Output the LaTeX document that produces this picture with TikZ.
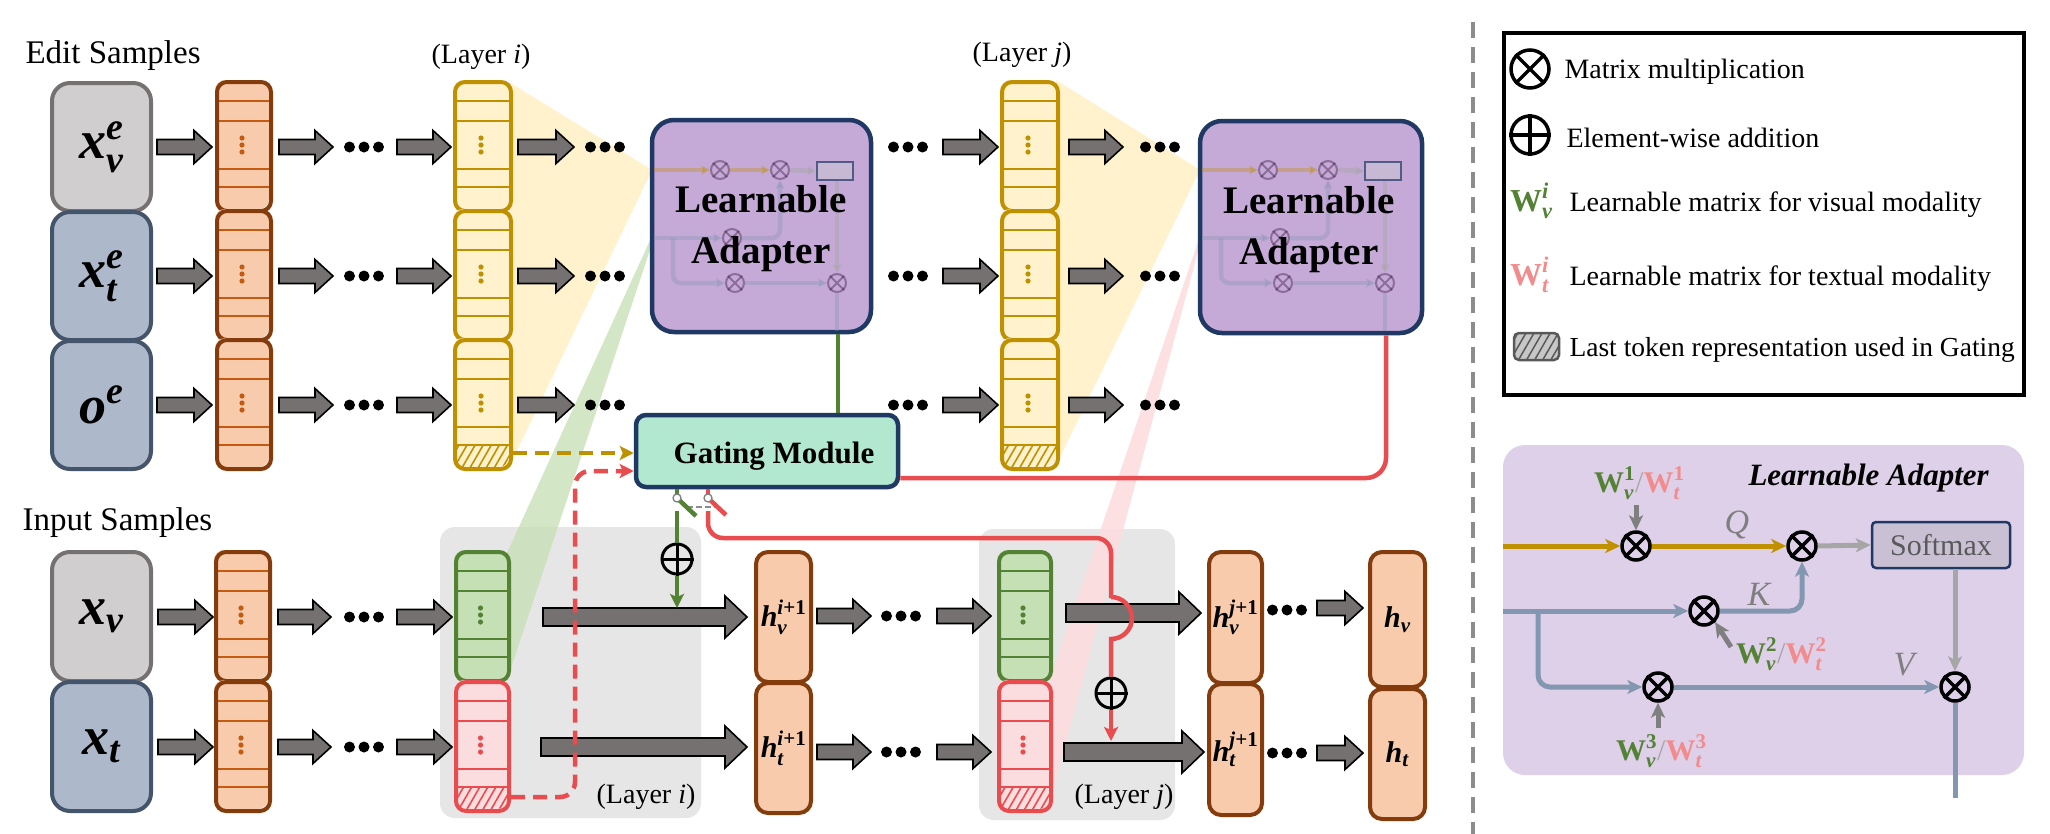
\documentclass[tikz,border=0pt]{standalone}
\usepackage{fix-cm}
\usepackage{amsmath}
\usepackage{fontspec}
\setmainfont{Liberation Serif}
\usetikzlibrary{arrows.meta,patterns.meta,calc}

\definecolor{agray}{HTML}{767171}
\definecolor{orfill}{HTML}{F8CBAD}
\definecolor{ordraw}{HTML}{843C0C}
\definecolor{orline}{HTML}{C55A11}
\definecolor{yefill}{HTML}{FFF2CC}
\definecolor{yedraw}{HTML}{BF9000}
\definecolor{grfill}{HTML}{C5E0B4}
\definecolor{grdraw}{HTML}{548235}
\definecolor{rdfill}{HTML}{FCDDDF}
\definecolor{rddraw}{HTML}{E84C4F}
\definecolor{ingray}{HTML}{D0CECE}
\definecolor{ingrayd}{HTML}{767171}
\definecolor{inblue}{HTML}{ADB9CA}
\definecolor{inblued}{HTML}{44546A}
\definecolor{adfill}{HTML}{C5A9D7}
\definecolor{navy}{HTML}{1F3864}
\definecolor{gatefill}{HTML}{B2E8CF}
\definecolor{laybg}{HTML}{E7E6E6}
\definecolor{panelfill}{HTML}{DFD0EA}
\definecolor{porange}{HTML}{BF9000}
\definecolor{pblue}{HTML}{8497B0}
\definecolor{pgray}{HTML}{A6A6A6}
\definecolor{smfill}{HTML}{C9C1D3}
\definecolor{wpink}{HTML}{F28B8B}
\definecolor{qgray}{HTML}{7F7F7F}
\definecolor{sepgray}{HTML}{8C8C8C}

\newcommand\bi[1]{\textbf{\textit{#1}}}
\newcommand\fs[1]{\fontsize{#1bp}{#1bp}\selectfont}

\tikzset{
  arrowblk/.style={fill=agray, draw=black, line width=1.6bp, line join=miter},
  segbox/.style={rectangle, rounded corners=10bp, line width=4bp, inner sep=0pt},
  inbox/.style={rectangle, rounded corners=18bp, line width=4bp, inner sep=0pt,
     minimum width=99bp, minimum height=128bp, anchor=north west},
  hbox/.style={rectangle, rounded corners=12bp, line width=4bp, fill=orfill,
     draw=ordraw, inner sep=0pt, anchor=north west},
  bigbox/.style={rectangle, rounded corners=22bp, line width=4.5bp, draw=navy, inner sep=0pt},
  greenl/.style={draw=grdraw, line width=4.5bp},
  redl/.style={draw=rddraw, line width=4.5bp},
  tipc/.style={-{Stealth[length=14bp,width=14bp,inset=3bp]}},
  ptip/.style={-{Stealth[length=15bp,width=14bp,inset=4bp]}},
  mtip/.style={-{Stealth[length=9bp,width=9bp,inset=2bp]}},
  otimes/.style={circle, draw=black, line width=3.5bp, inner sep=0pt, minimum size=28bp},
  mot/.style={circle, draw=black!70!violet, line width=2bp, inner sep=0pt, minimum size=18bp, opacity=0.35},
}

\newcommand\barr[6]{\filldraw[arrowblk] (#1,#3-#4) -- (#2-#6,#3-#4) -- (#2-#6,#3-#5) -- (#2,#3) -- (#2-#6,#3+#5) -- (#2-#6,#3+#4) -- (#1,#3+#4) -- cycle;}
\newcommand\sarr[3]{\barr{#1}{#2}{#3}{7.5}{16.5}{18}}
\newcommand\larr[3]{\barr{#1}{#2}{#3}{9}{21}{22}}
\newcommand\tdots[2]{\fill (#1+5.5,#2) circle[radius=5.5bp] (#1+20,#2) circle[radius=5.5bp] (#1+34.5,#2) circle[radius=5.5bp];}

% #1 name #2 x #3 ytop #4 w #5 fill #6 border #7 line color #8 dot color #9 hatch
\newcommand\cseg[9]{%
  \fill[#5, rounded corners=10bp] (#2,#3) rectangle (#2+#4,#3+129);
  \ifnum#9=1
    \begin{scope}
      \clip[rounded corners=10bp] (#2,#3) rectangle (#2+#4,#3+129);
      \fill[pattern={Lines[angle=60,distance=7bp,line width=1.6bp]}, pattern color=#6] (#2,#3+107) rectangle (#2+#4,#3+129);
    \end{scope}
  \fi
  \foreach \yy in {21,41,89,107} \draw[#7, line width=2.6bp] (#2,#3+\yy) -- (#2+#4,#3+\yy);
  \foreach \yy in {58,65,72} \fill[#8] (#2+#4/2,#3+\yy) circle[radius=2.6bp];
  \node[segbox, draw=#6, minimum width=#4bp, minimum height=129bp, anchor=north west] (#1) at (#2,#3) {};
}

\newcommand\otn[3]{% name, x, y  (matrix mult, panel)
  \node[otimes] (#1) at (#2,#3) {};
  \draw[line width=3.5bp] (#1.north east) -- (#1.south west) (#1.north west) -- (#1.south east);
}
\newcommand\mot[3]{% mini otimes
  \node[mot] (#1) at (#2,#3) {};
  \draw[black!70!violet, line width=2bp, opacity=0.35] (#1.north east) -- (#1.south west) (#1.north west) -- (#1.south east);
}
\newcommand\mini[2]{% L, prefix
  \begin{scope}[line width=4.5bp]
    \mot{#2a}{#1+68}{170}
    \mot{#2b}{#1+128}{170}
    \mot{#2d}{#1+80}{238}
    \mot{#2e}{#1+83}{283}
    \mot{#2c}{#1+185}{283}
    \node[rectangle, fill=smfill, draw=navy, line width=1.5bp, minimum width=36bp, minimum height=18bp, inner sep=0pt, opacity=0.7] (#2s) at (#1+183,171) {};
    \draw[porange, opacity=0.35, mtip] (#1+2,170) -- (#2a.west);
    \draw[porange, opacity=0.35, mtip] (#2a.east) -- (#2b.west);
    \draw[pgray, opacity=0.45, mtip] (#2b.east) -- (#2s.west);
    \draw[pgray, opacity=0.45, mtip] (#2c |- #2s.south) -- (#2c.north);
    \draw[pblue, opacity=0.35, mtip] (#1+2,238) -- (#2d.west);
    \draw[pblue, opacity=0.35, mtip, rounded corners=8bp] (#2d.east) -| (#2b.south);
    \draw[pblue, opacity=0.35, mtip, rounded corners=8bp] (#1+21,238) |- (#2e.west);
    \draw[pblue, opacity=0.35, mtip] (#2e.east) -- (#2c.west);
    \draw[pblue, opacity=0.35] (#2c.south) -- (#1+185,331);
  \end{scope}
}

\begin{document}
\begin{tikzpicture}[x=1bp,y=-1bp]
\useasboundingbox (0,0) rectangle (2050,834);
\fill[white] (0,0) rectangle (2050,834);

% ---------- layer backgrounds ----------
\fill[laybg, rounded corners=15bp] (440,527) rectangle (701,818);
\fill[laybg, rounded corners=15bp] (979,529) rectangle (1175,820);

% ---------- wedges ----------
\fill[yefill] (509,82) -- (652,170) -- (509,467) -- cycle;
\fill[yefill] (1056,80) -- (1200,170) -- (1056,465) -- cycle;
\fill[grfill, opacity=0.75] (507,553) -- (652,236) -- (652,244) -- (507,680) -- cycle;
\fill[rdfill, opacity=0.9] (1049,682) -- (1200,236) -- (1200,244) -- (1049,805) -- cycle;

% ---------- titles ----------
\node[anchor=base west, font={\fs{33}}] (edit) at (22,63) {Edit Samples};
\node[anchor=base west, font={\fs{33}}] (inp) at (19,530) {Input Samples};
\node[font={\fs{28}}] (li1) at (481,57) {(Layer \textit{i})};
\node[font={\fs{28}}] (lj1) at (1022,55) {(Layer \textit{j})};
\node[font={\fs{28}}] (li2) at (646,797) {(Layer \textit{i})};
\node[font={\fs{28}}] (lj2) at (1124,797) {(Layer \textit{j})};

% ---------- edit sample inputs ----------
\node[inbox, fill=ingray, draw=ingrayd] (xve) at (50,81) {\fs{54}$\bi{x}^{\bi{e}}_{\bi{v}}$};
\node[inbox, fill=inblue, draw=inblued] (xte) at (50,210) {\fs{54}$\bi{x}^{\bi{e}}_{\bi{t}}$};
\node[inbox, fill=inblue, draw=inblued] (oe) at (50,339) {\fs{54}$\bi{o}^{\bi{e}}$};

% ---------- top columns ----------
\cseg{oc1}{215}{80}{54}{orfill}{ordraw}{orline}{orline}{0}
\cseg{oc2}{215}{209}{54}{orfill}{ordraw}{orline}{orline}{0}
\cseg{oc3}{215}{338}{54}{orfill}{ordraw}{orline}{orline}{0}
\cseg{yi1}{453}{80}{56}{yefill}{yedraw}{yedraw}{yedraw}{0}
\cseg{yi2}{453}{209}{56}{yefill}{yedraw}{yedraw}{yedraw}{0}
\cseg{yi3}{453}{338}{56}{yefill}{yedraw}{yedraw}{yedraw}{1}
\cseg{yj1}{1000}{80}{56}{yefill}{yedraw}{yedraw}{yedraw}{0}
\cseg{yj2}{1000}{209}{56}{yefill}{yedraw}{yedraw}{yedraw}{0}
\cseg{yj3}{1000}{338}{56}{yefill}{yedraw}{yedraw}{yedraw}{1}

\foreach \r in {147,276,405}{
  \sarr{157}{212}{\r}
  \sarr{279}{333}{\r}
  \tdots{344}{\r}
  \sarr{397}{451}{\r}
  \sarr{518}{574}{\r}
  \tdots{585}{\r}
  \tdots{888}{\r}
  \sarr{943}{998}{\r}
  \sarr{1069}{1123}{\r}
  \tdots{1140}{\r}
}

% ---------- input samples ----------
\node[inbox, fill=ingray, draw=ingrayd, minimum height=129bp] (xv) at (50,550) {\fs{54}$\bi{x}_{\bi{v}}$};
\node[inbox, fill=inblue, draw=inblued, minimum height=129bp] (xt) at (50,680) {\fs{54}$\bi{x}_{\bi{t}}$};
\cseg{ob1}{214}{550}{54}{orfill}{ordraw}{orline}{orline}{0}
\cseg{ob2}{214}{680}{54}{orfill}{ordraw}{orline}{orline}{0}
\cseg{gci}{454}{550}{53}{grfill}{grdraw}{grdraw}{grdraw}{0}
\cseg{rci}{454}{680}{53}{rdfill}{rddraw}{rddraw}{rddraw}{1}
\cseg{gcj}{997}{550}{52}{grfill}{grdraw}{grdraw}{grdraw}{0}
\cseg{rcj}{997}{680}{52}{rdfill}{rddraw}{rddraw}{rddraw}{1}

\foreach \r in {617,747}{
  \sarr{158}{213}{\r}
  \sarr{278}{331}{\r}
  \tdots{344}{\r}
  \sarr{397}{452}{\r}
}
\larr{543}{747}{617}
\larr{541}{747}{747}

\node[hbox, minimum width=55bp, minimum height=130bp] (hvi) at (754,550) {\fs{30}$\bi{h}^{\bi{i}\textbf{+1}}_{\bi{v}}$};
\node[hbox, minimum width=55bp, minimum height=130bp] (hti) at (754,681) {\fs{30}$\bi{h}^{\bi{i}\textbf{+1}}_{\bi{t}}$};
\sarr{817}{871}{616} \tdots{881}{616} \sarr{937}{991}{616}
\sarr{817}{871}{752} \tdots{881}{752} \sarr{937}{991}{752}
\larr{1066}{1201}{613}
\larr{1064}{1204}{752}
\node[hbox, minimum width=53bp, minimum height=131bp] (hvj) at (1207,550) {\fs{30}$\bi{h}^{\bi{j}\textbf{+1}}_{\bi{v}}$};
\node[hbox, minimum width=53bp, minimum height=131bp] (htj) at (1207,682) {\fs{30}$\bi{h}^{\bi{j}\textbf{+1}}_{\bi{t}}$};
\tdots{1267}{610} \sarr{1317}{1363}{608}
\tdots{1267}{753} \sarr{1317}{1363}{753}
\node[hbox, minimum width=55bp, minimum height=135bp] (hv) at (1368,550) {\fs{30}$\bi{h}_{\bi{v}}$};
\node[hbox, minimum width=55bp, minimum height=130bp] (ht) at (1368,687) {\fs{30}$\bi{h}_{\bi{t}}$};

% ---------- adapters & gating ----------
\node[bigbox, fill=adfill, minimum width=219bp, minimum height=212bp] (ad1) at (761.5,226) {};
\node[bigbox, fill=adfill, minimum width=222bp, minimum height=212bp] (ad2) at (1311,227) {};
\mini{652}{pa}
\mini{1200}{pb}
\node[anchor=base, font={\fs{39}\bfseries}] (ad1t1) at (761,212) {Learnable};
\node[anchor=base, font={\fs{39}\bfseries}] (ad1t2) at (761,263) {Adapter};
\node[anchor=base, font={\fs{39}\bfseries}] (ad2t1) at (1309,213) {Learnable};
\node[anchor=base, font={\fs{39}\bfseries}] (ad2t2) at (1309,264) {Adapter};

\node[rectangle, rounded corners=10bp, line width=4.5bp, draw=navy, fill=gatefill,
      minimum width=262bp, minimum height=72bp, inner sep=0pt] (gate) at (767,451) {};
\node[anchor=base, font={\fs{31}\bfseries}] (gatet) at (774,463) {Gating Module};

% ---------- connectors ----------
\coordinate (gx) at (838,0);
\draw[greenl] (gx |- ad1.south) -- (gx |- gate.north);

\coordinate (rx) at (1386,0);
\coordinate (ry) at (0,478);
\draw[redl, rounded corners=20bp] (rx |- ad2.south) -- (rx |- ry) -- (gate.east |- ry);

\coordinate (ydy) at (0,453);
\draw[yedraw, line width=4.5bp, dash pattern=on 14bp off 8bp, tipc] (yi3.east |- ydy) -- (gate.west |- ydy);
\coordinate (rdh) at (0,797);
\coordinate (rdy) at (0,471);
\coordinate (rdx) at (575,0);
\draw[redl, dash pattern=on 14bp off 8bp, rounded corners=15bp, tipc]
  (rci.east |- rdh) -- (rdx |- rdh) -- (rdx |- rdy) -- (gate.west |- rdy);

% switches
\coordinate (swg) at (677,498);
\coordinate (swr) at (708,498);
\draw[greenl] (swg |- gate.south) -- (swg);
\draw[redl] (swr |- gate.south) -- (swr);
\draw[sepgray, line width=2.5bp, dash pattern=on 6bp off 3bp] (687,507) -- (717,507);
\draw[greenl] (swg) -- (696,516);
\draw[redl] (swr) -- (726,515);
\node[circle, draw=black, line width=3bp, inner sep=0pt, minimum size=30bp] (pli) at (677,559) {};
\draw[line width=3bp] (pli.north) -- (pli.south) (pli.west) -- (pli.east);
\draw[greenl] (677,511) -- (pli.north);
\draw[greenl, tipc] (pli.south) -- (677,608);
\draw[gray, fill=white, line width=1.3bp] (swg) circle[radius=4bp];
\draw[gray, fill=white, line width=1.3bp] (swr) circle[radius=4bp];

\node[circle, draw=black, line width=3bp, inner sep=0pt, minimum size=30bp] (plj) at (1111,693) {};
\draw[line width=3bp] (plj.north) -- (plj.south) (plj.west) -- (plj.east);
\draw[redl, rounded corners=15bp] (708,511) -- (708,538) -- (1111,538) -- (1111,598);
\draw[redl] (1111,597) arc[start angle=90, end angle=-90, radius=21bp] -- (plj.north);
\draw[redl, tipc] (plj.south) -- (1111,741);

% ---------- separator ----------
\draw[sepgray, line width=4bp, dash pattern=on 16bp off 9bp] (1473,22) -- (1473,834);

% ---------- legend ----------
\node[rectangle, draw=black, line width=4bp, minimum width=520bp, minimum height=362bp, inner sep=0pt] (leg) at (1764,214) {};
\node[circle, draw=black, line width=3.5bp, inner sep=0pt, minimum size=38bp] (lox) at (1530,69) {};
\draw[line width=3.5bp] (lox.north east) -- (lox.south west) (lox.north west) -- (lox.south east);
\node[anchor=base west, font={\fs{28}}] (lt1) at (1561,78) {Matrix multiplication};
\node[circle, draw=black, line width=3.5bp, inner sep=0pt, minimum size=38bp] (lop) at (1530,135) {};
\draw[line width=3.5bp] (lop.north) -- (lop.south) (lop.west) -- (lop.east);
\node[anchor=base west, font={\fs{28}}] (lt2) at (1563,147) {Element-wise addition};
\node[anchor=base west, font={\fs{32}}, text=grdraw, inner sep=0pt] (lwv) at (1510,211) {$\textbf{W}^{\bi{i}}_{\bi{v}}$};
\node[anchor=base west, font={\fs{28}}] (lt3) at (1566,211) {Learnable matrix for visual modality};
\node[anchor=base west, font={\fs{32}}, text=wpink, inner sep=0pt] (lwt) at (1510,285) {$\textbf{W}^{\bi{i}}_{\bi{t}}$};
\node[anchor=base west, font={\fs{28}}] (lt4) at (1566,285) {Learnable matrix for textual modality};
\fill[black!22, rounded corners=5bp] (1514,333) rectangle (1559,360);
\begin{scope}
  \clip[rounded corners=5bp] (1514,333) rectangle (1559,360);
  \fill[pattern={Lines[angle=60,distance=7bp,line width=1.5bp]}, pattern color=black!65] (1514,333) rectangle (1559,360);
\end{scope}
\node[rectangle, rounded corners=5bp, draw=black!65, line width=2.5bp, minimum width=45bp, minimum height=27bp, inner sep=0pt] (lhat) at (1536.5,346.5) {};
\node[anchor=base west, font={\fs{27.5}}] (lt5) at (1566,356) {Last token representation used in Gating};

% ---------- learnable adapter panel ----------
\fill[panelfill, rounded corners=22bp] (1503,445) rectangle (2024,775);
\node[anchor=base west, font={\fs{31}\bfseries\itshape}] (pt) at (1745,485) {Learnable Adapter};
\otn{px1}{1636}{546}
\otn{px2}{1802}{546}
\otn{px3}{1704}{611}
\otn{px4}{1658}{687}
\otn{px5}{1955}{687}
\node[rectangle, rounded corners=4bp, fill=smfill, draw=navy, line width=2.5bp,
      minimum width=138bp, minimum height=46bp, inner sep=0pt, text=black!65,
      font={\fs{30}}] (smax) at (1941,545) {Softmax};
\begin{scope}[line width=5bp]
  \draw[porange, ptip] (1503,546) -- (px1.west);
  \draw[porange, ptip] (px1.east) -- (px2.west);
  \draw[pgray, ptip] (px2.east) -- (smax.west);
  \draw[pblue, ptip] (1503,611) -- (px3.west);
  \draw[pblue, ptip, rounded corners=12bp] (px3.east) -| (px2.south);
  \draw[pblue, ptip, rounded corners=12bp] (1538,611) |- (px4.west);
  \draw[pblue, ptip] (px4.east) -- (px5.west);
  \draw[pgray, ptip] (px5 |- smax.south) -- (px5.north);
  \draw[pblue] (px5.south) -- (1955,798);
  \draw[qgray, ptip] (1636,505) -- (px1.north);
  \draw[qgray, ptip] (1731,647) -- (px3.south east);
  \draw[qgray, ptip] (1658,728) -- (px4.south);
\end{scope}
\node[anchor=base west, font={\fs{34}\itshape}, text=qgray] (qq) at (1721,533) {Q};
\node[anchor=base west, font={\fs{34}\itshape}, text=qgray] (kk) at (1744,605) {K};
\node[anchor=base west, font={\fs{34}\itshape}, text=qgray] (vv) at (1890,675) {V};
\node[anchor=base west, font={\fs{30}}, inner sep=0pt] (w1) at (1594,492)
  {\textcolor{grdraw}{$\textbf{W}^{\textbf{1}}_{\bi{v}}$}\textcolor{pgray}{/}\textcolor{wpink}{$\textbf{W}^{\textbf{1}}_{\bi{t}}$}};
\node[anchor=base west, font={\fs{30}}, inner sep=0pt] (w2) at (1736,663)
  {\textcolor{grdraw}{$\textbf{W}^{\textbf{2}}_{\bi{v}}$}\textcolor{pgray}{/}\textcolor{wpink}{$\textbf{W}^{\textbf{2}}_{\bi{t}}$}};
\node[anchor=base west, font={\fs{30}}, inner sep=0pt] (w3) at (1616,760)
  {\textcolor{grdraw}{$\textbf{W}^{\textbf{3}}_{\bi{v}}$}\textcolor{pgray}{/}\textcolor{wpink}{$\textbf{W}^{\textbf{3}}_{\bi{t}}$}};

\end{tikzpicture}
\end{document}
